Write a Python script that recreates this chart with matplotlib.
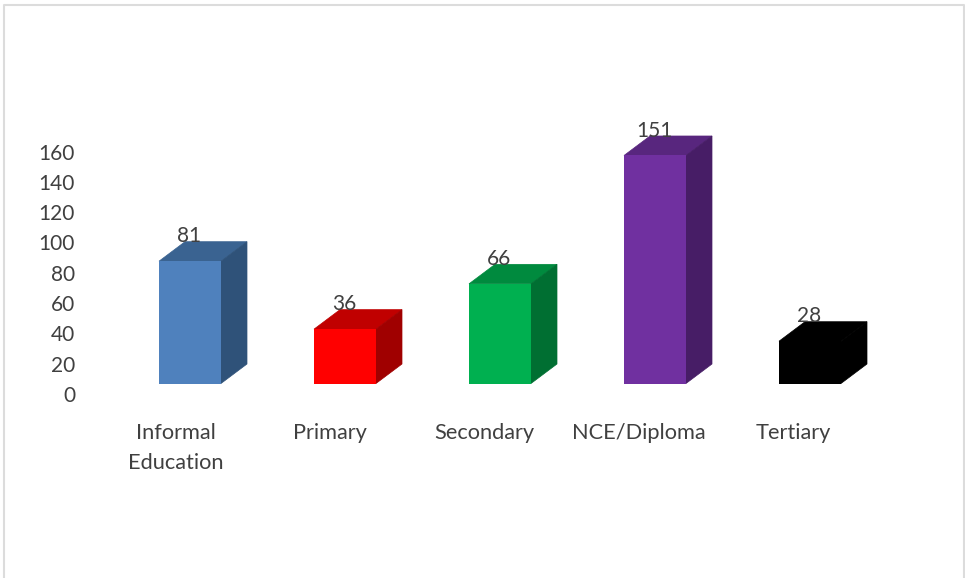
import matplotlib.pyplot as plt
from matplotlib.lines import Line2D
from matplotlib.patches import Polygon

W = 965
H = 578

categories = ["Informal\nEducation", "Primary", "Secondary", "NCE/Diploma", "Tertiary"]
values = [81, 36, 66, 151, 28]
yticks = [0, 20, 40, 60, 80, 100, 120, 140, 160]
front_colors = ["#4f81bd", "#ff0000", "#00b050", "#7030a0", "#000000"]
top_colors = ["#3a6391", "#c00000", "#008a3e", "#58267e", "#000000"]
side_colors = ["#2f5279", "#a00000", "#006f32", "#471d66", "#000000"]

plt.rcParams['font.family'] = ['Lato', 'DejaVu Sans']
text_color = "#404040"
fs = 15

fig = plt.figure(figsize=(W / 100, H / 100), dpi=100)

# Bars: full-figure axes, 155 px per category and 1.51 px per unit
px_x = 155
px_y = 1.51
x0 = 190
y0 = 383.5
ax = fig.add_axes([0, 0, 1, 1])
ax.set_xlim(-x0 / px_x, (W - x0) / px_x)
ax.set_ylim((y0 - H) / px_y, y0 / px_y)
ax.axis("off")

bar_w = 62 / px_x
dx = 26 / px_x
dy = 19.5 / px_y
for i, v in enumerate(values):
    l = i - bar_w / 2
    r = i + bar_w / 2
    ax.bar(i, v, width=bar_w, color=front_colors[i], linewidth=0, zorder=3)
    # thin edge in the face colour closes the seams between the faces
    ax.add_patch(Polygon([(l, v), (r, v), (r + dx, v + dy), (l + dx, v + dy)], closed=True,
                         facecolor=top_colors[i], edgecolor=top_colors[i], linewidth=0.5, zorder=2))
    ax.add_patch(Polygon([(r, 0), (r + dx, dy), (r + dx, v + dy), (r, v)], closed=True,
                         facecolor=side_colors[i], edgecolor=side_colors[i], linewidth=0.5, zorder=2))
    ax.annotate(str(v), (i, v), xytext=(-0.7, 17.8), textcoords="offset points",
                ha="center", va="center", fontsize=fs, color=text_color, zorder=5)

# Tick labels sit on their own scale, offset from the bars
left = 82
tick_bottom = 394
tick_top = 151.5
ax2 = fig.add_axes([left / W, 1 - tick_bottom / H, (W - left) / W, (tick_bottom - tick_top) / H])
ax2.patch.set_visible(False)
ax2.set_ylim(0, 160)
ax2.set_yticks(yticks)
ax2.set_xlim((left - 176) / 154.4, (W - 176) / 154.4)
ax2.set_xticks(range(len(categories)))
ax2.set_xticklabels(categories, linespacing=1.65)
ax2.tick_params(axis="y", length=0, labelsize=fs, labelcolor=text_color, pad=5)
ax2.tick_params(axis="x", length=0, labelsize=15.7, labelcolor=text_color, pad=20.7)
for s in ax2.spines.values():
    s.set_visible(False)

# Chart frame, open at the bottom
fig.add_artist(Line2D([4 / W, 4 / W, 964 / W, 964 / W], [0, 1 - 5 / H, 1 - 5 / H, 0],
                      color="#dcdcdc", linewidth=1.5))

fig.savefig("out.png", dpi=100)
